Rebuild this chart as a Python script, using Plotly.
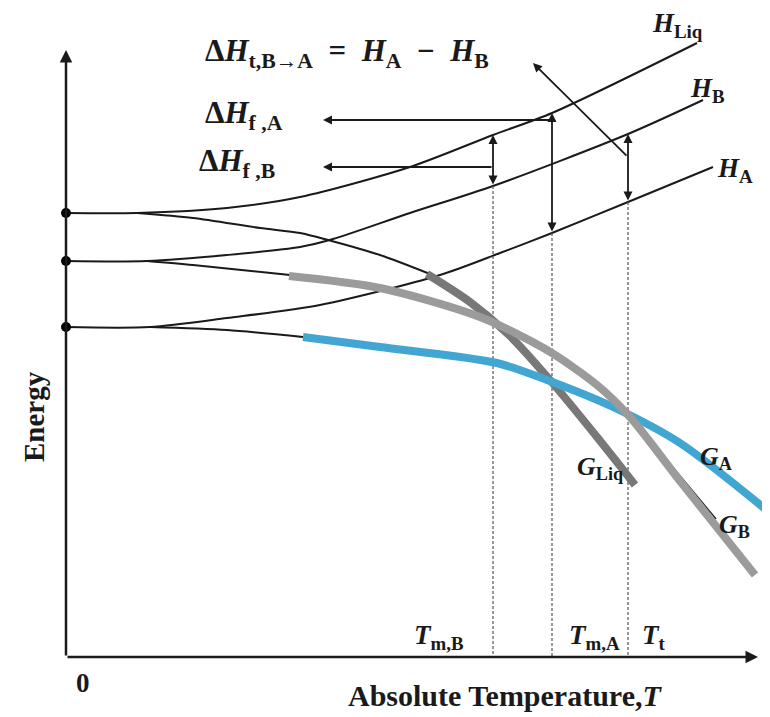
import plotly.graph_objects as go

# ---------------- data (arbitrary temperature / energy units, origin at axes corner) -------------
# Enthalpy curves
hliq_T = [0, 71, 161, 234, 344, 427, 486, 631]
hliq_E = [444, 444, 449, 460, 490, 522, 544, 614]
hb_T = [0, 81, 161, 234, 267, 344, 427, 562, 637]
hb_E = [396, 396, 402, 410, 418, 444, 471, 523, 557]
ha_T = [0, 84, 161, 254, 374, 434, 486, 562, 647]
ha_E = [330, 330, 339, 352, 382, 404, 424, 455, 490]

# Gibbs energy curves: thin (low T) part and highlighted part
gliq_thin_T = [71, 127, 194, 234, 262, 314, 364]
gliq_thin_E = [444, 439, 429, 424, 417, 402, 383]
gliq_T = [361, 404, 444, 484, 531, 569]
gliq_E = [383, 355, 321, 277, 220, 172]

gb_thin_T = [81, 127, 224]
gb_thin_E = [396, 392, 382]
gb_T = [223, 314, 414, 481, 531, 564, 614, 689]
gb_E = [381, 369, 340, 307, 272, 240, 176, 82]
gb_tail_T = [574, 650]
gb_tail_E = [229, 138]

ga_thin_T = [84, 161, 237]
ga_thin_E = [330, 327, 320]
ga_T = [237, 314, 431, 481, 547, 614, 709]
ga_E = [320, 310, 294, 277, 250, 214, 140]

# Zero-K starting energies (dots on energy axis)
start_E = [444, 396, 330]

# Characteristic temperatures and enthalpy gaps
temp_names = ["T<sub>m,B</sub>", "T<sub>m,A</sub>", "T<sub>t</sub>"]
temp_vals = [427, 486, 562]
temp_top_E = [471, 424, 455]          # where dashed guide lines start
gap_T = [427, 486, 562]
gap_hi = [522, 544, 523]
gap_lo = [471, 424, 455]

FONT = "Liberation Serif"
BLACK = "#1a1a1a"

fig = go.Figure()

def line(x, y, color=BLACK, width=2, dash=None):
    fig.add_trace(go.Scatter(x=x, y=y, mode="lines", line=dict(color=color, width=width, shape="spline",
                                                               smoothing=0.8, dash=dash),
                             hoverinfo="skip"))

# thin enthalpy / Gibbs curves
line(hliq_T, hliq_E)
line(hb_T, hb_E)
line(ha_T, ha_E)
line(gliq_thin_T, gliq_thin_E)
line(gb_thin_T, gb_thin_E)
line(ga_thin_T, ga_thin_E)
line(gb_tail_T, gb_tail_E, width=1.6)

# dashed guide lines
for t, top in zip(temp_vals, temp_top_E):
    fig.add_trace(go.Scatter(x=[t, t], y=[top, 0], mode="lines",
                             line=dict(color="#555555", width=1.2, dash="3px,2px"), hoverinfo="skip"))

# highlighted Gibbs curves
line(gliq_T, gliq_E, color="#787878", width=8)
line(ga_T, ga_E, color="#42a6d2", width=8)
line(gb_T, gb_E, color="#9b9b9b", width=8)

# dots at T = 0
fig.add_trace(go.Scatter(x=[0] * len(start_E), y=start_E, mode="markers",
                         marker=dict(color="black", size=10), hoverinfo="skip"))

ann = []

def arrow(x, y, ax, ay, both=False, width=1.8, size=1.0):
    ann.append(dict(x=x, y=y, ax=ax, ay=ay, xref="x", yref="y", axref="x", ayref="y",
                    text="", showarrow=True, arrowhead=2, arrowsize=size, arrowwidth=width,
                    arrowcolor=BLACK, arrowside="end+start" if both else "end",
                    standoff=0, startstandoff=0))

# axes with arrowheads
arrow(0, 607, 0, 0, width=2.5, size=1.0)
arrow(692, 0, 0, 0, width=2.5, size=1.0)

# enthalpy gap arrows
for t, hi, lo in zip(gap_T, gap_hi, gap_lo):
    arrow(t, hi, t, lo, both=True)
arrow(257, 537, 486, 537)
arrow(257, 490, 427, 490)
arrow(467, 594, 562, 500)

def label(x, y, text, size=28, xanchor="left", angle=0):
    ann.append(dict(x=x, y=y, xref="x", yref="y", text=text, showarrow=False,
                    xanchor=xanchor, yanchor="middle", textangle=angle,
                    font=dict(family=FONT, size=size, color=BLACK)))

label(137, 604, "<b>Δ<i>H</i><sub>t,B→A</sub>  =  <i>H</i><sub>A</sub>  −  <i>H</i><sub>B</sub></b>", size=31)
label(137, 542, "<b>Δ<i>H</i><sub>f ,A</sub></b>", size=31)
label(131, 494, "<b>Δ<i>H</i><sub>f ,B</sub></b>", size=31)
label(584, 632, "<b><i>H</i><sub>Liq</sub></b>", size=27)
label(622, 567, "<b><i>H</i><sub>B</sub></b>", size=27)
label(649, 487, "<b><i>H</i><sub>A</sub></b>", size=27)
label(509, 189, "<b><i>G</i><sub>Liq</sub></b>", size=26)
label(632, 199, "<b><i>G</i><sub>A</sub></b>", size=26)
label(651, 131, "<b><i>G</i><sub>B</sub></b>", size=26)
for name, x in zip(temp_names, [346, 501, 574]):
    label(x, 20, "<b><i>T</i>" + name[1:] + "</b>", size=27)
label(8, -26, "<b>0</b>", size=27)
label(439, -38, "<b>Absolute Temperature,<i>T</i></b>", size=30, xanchor="center")
label(-32, 240, "<b>Energy</b>", size=29, xanchor="center", angle=-90)

# the page body keeps an 8 px browser margin, so the figure is 8 px smaller and the
# axis ranges are trimmed on the left/top to keep the same scale and placement
fig.update_layout(
    width=762, height=709, margin=dict(l=0, r=0, t=0, b=0),
    paper_bgcolor="white", plot_bgcolor="white", showlegend=False,
    xaxis=dict(range=[-58, 704], visible=False, fixedrange=True),
    yaxis=dict(range=[-60, 649], visible=False, fixedrange=True),
    annotations=ann,
)

fig.write_html("out.html")
